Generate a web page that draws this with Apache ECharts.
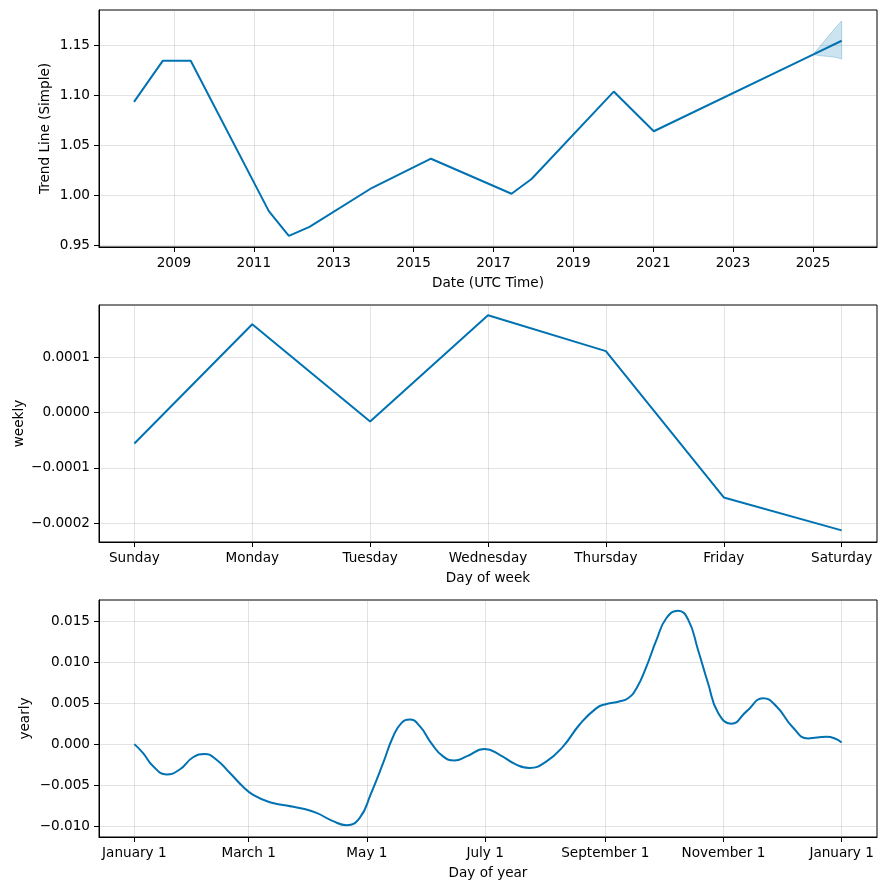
<!DOCTYPE html>
<html><head><meta charset="utf-8">
<script src="https://cdn.jsdelivr.net/npm/echarts@6/dist/echarts.min.js"></script>
<style>html,body{margin:0;padding:0;background:#fff}#c{width:886px;height:890px}</style>
</head><body><div id="c"></div>
<script>
// ---- Panel 1: trend ----
const trendDates = ['2008-01-01','2008-09-20','2009-06-03','2011-05-18','2011-11-17','2012-05-24','2013-12-18','2015-06-09','2017-06-15','2017-12-15','2020-01-05','2021-01-06','2025-01-01','2025-09-20'];
const trendValues = [1.0933,1.1343,1.1343,0.9843,0.9596,0.9686,1.0076,1.0366,1.0016,1.0163,1.1036,1.0640,1.1405,1.1543];
const bandDates = ['2025-01-01','2025-03-15','2025-05-27','2025-08-08','2025-09-20'];
const bandLower = [1.1405,1.1393,1.1386,1.1375,1.1360];
const bandUpper = [1.1405,1.1500,1.1595,1.1690,1.1740];
const trendTickYears = [2009,2011,2013,2015,2017,2019,2021,2023,2025];
const trendYTicks = [0.95,1.00,1.05,1.10,1.15];
// ---- Panel 2: weekly ----
const weekDays = ['Sunday','Monday','Tuesday','Wednesday','Thursday','Friday','Saturday'];
const weeklyValues = [-0.0000559,0.0001591,-0.0000162,0.0001753,0.0001105,-0.0001532,-0.0002126];
const weeklyYTicks = [-0.0002,-0.0001,0,0.0001];
// ---- Panel 3: yearly ----
const yearDays = [0,4.5,9.7,16.6,23.4,30.3,36.3,42.4,49.2,56.1,61.3,69.9,78.5,87.1,94,102.5,109.5,116.3,122,128.4,133.5,137.9,142.1,147.3,153.3,159.3,165.3,171.4,180.8,188.5,197.1,204,212.7,221.2,229.8,238.5,243.6,250.2,254.8,259.1,264.3,269.4,274.6,280.6,285.8,290.9,296.1,301.3,308.2,315.9,324.5,331.4,340,347.7,357.2,365];
const yearlyValues = [0.0000,-0.0011,-0.0027,-0.0037,-0.0031,-0.0016,-0.0012,-0.0019,-0.0035,-0.0052,-0.0062,-0.0071,-0.0075,-0.0079,-0.0084,-0.0094,-0.0099,-0.0090,-0.0061,-0.0023,0.0009,0.0026,0.0030,0.0022,0.0001,-0.0015,-0.0020,-0.0015,-0.0006,-0.0013,-0.0025,-0.0029,-0.0021,-0.0003,0.0024,0.0044,0.0049,0.0052,0.0056,0.0068,0.0095,0.0127,0.0154,0.0163,0.0152,0.0115,0.0074,0.0038,0.0025,0.0040,0.0056,0.0046,0.0020,0.0007,0.0009,0.0002];
const yearTickDays = [0,59,120,181,243,304,365];
const yearTickLabels = ['January 1','March 1','May 1','July 1','September 1','November 1','January 1'];
const yearlyYTicks = [-0.010,-0.005,0,0.005,0.010,0.015];

const LINE = '#0072B2';
const FONT = 'DejaVu Sans';
const FS = 13.6;
function fmt(v, n) {
  const s = Math.abs(v).toFixed(n);
  return (v < -1e-12 ? '\u2212' : '') + s;
}
// date string -> fractional year (UTC)
function decYear(s) {
  const p = s.split('-').map(Number);
  const t = Date.UTC(p[0], p[1]-1, p[2]);
  const a = Date.UTC(p[0], 0, 1), b = Date.UTC(p[0]+1, 0, 1);
  return p[0] + (t - a) / (b - a);
}

const axisCommon = {
  axisLine: { show: true, onZero: false, lineStyle: { color: '#000', width: 1 } },
  axisTick: { show: true, inside: false, length: 5, lineStyle: { color: '#000', width: 1 } },
  splitLine: { show: true, lineStyle: { color: 'rgba(128,128,128,0.22)', width: 1 } },
  nameTextStyle: { fontFamily: FONT, fontSize: FS, color: '#000' },
  nameMoveOverlap: false,
  nameLocation: 'middle'
};
function ax(extra) { return Object.assign({}, axisCommon, extra); }
const labelBase = { fontFamily: FONT, fontSize: FS, color: '#000', margin: 9, showMinLabel: true, showMaxLabel: true, hideOverlap: false };
function ticks(vals) { return Object.assign({}, axisCommon.axisTick, { customValues: vals }); }
function labels(vals, f) { return Object.assign({}, labelBase, { customValues: vals, formatter: f }); }

const bandData = bandDates.map((d, i) => [decYear(d), bandLower[i], bandUpper[i]]);

const chart = echarts.init(document.getElementById('c'), null, { renderer: 'canvas' });
const gridBase = { left: 99, right: 9, height: 237, show: true, borderColor: '#000', borderWidth: 1, backgroundColor: 'transparent', containLabel: false, outerBoundsMode: 'none' };

chart.setOption({
  animation: false,
  backgroundColor: '#fff',
  grid: [
    Object.assign({}, gridBase, { top: 10 }),
    Object.assign({}, gridBase, { top: 305 }),
    Object.assign({}, gridBase, { top: 600 })
  ],
  xAxis: [
    ax({ type: 'value', gridIndex: 0, min: decYear('2007-02-15'), max: decYear('2026-08-09'),
      name: 'Date (UTC Time)', nameGap: 29,
      axisTick: ticks(trendTickYears), axisLabel: labels(trendTickYears, v => String(Math.round(v))) }),
    ax({ type: 'value', gridIndex: 1, min: -0.3, max: 6.3,
      name: 'Day of week', nameGap: 29,
      axisTick: ticks([0,1,2,3,4,5,6]), axisLabel: labels([0,1,2,3,4,5,6], v => weekDays[Math.round(v)]) }),
    ax({ type: 'value', gridIndex: 2, min: -18.25, max: 383.25,
      name: 'Day of year', nameGap: 29,
      axisTick: ticks(yearTickDays), axisLabel: labels(yearTickDays, v => yearTickLabels[yearTickDays.indexOf(Math.round(v))]) })
  ],
  yAxis: [
    ax({ type: 'value', gridIndex: 0, min: 0.9485, max: 1.185, name: 'Trend Line (Simple)', nameGap: 47,
      axisTick: ticks(trendYTicks), axisLabel: labels(trendYTicks, v => fmt(v, 2)) }),
    ax({ type: 'value', gridIndex: 1, min: -0.0002335, max: 0.0001937, name: 'weekly', nameGap: 73,
      axisTick: ticks(weeklyYTicks), axisLabel: labels(weeklyYTicks, v => fmt(v, 4)) }),
    ax({ type: 'value', gridIndex: 2, min: -0.01134, max: 0.0176, name: 'yearly', nameGap: 67,
      axisTick: ticks(yearlyYTicks), axisLabel: labels(yearlyYTicks, v => fmt(v, 3)) })
  ],
  series: [
    { type: 'custom', xAxisIndex: 0, yAxisIndex: 0, silent: true, clip: true,
      data: bandData, encode: { x: 0, y: [1, 2] },
      renderItem: function (params, api) {
        if (params.dataIndex !== 0) return null;
        const pts = [];
        bandData.forEach(r => pts.push(api.coord([r[0], r[2]])));
        for (let i = bandData.length - 1; i >= 0; i--) pts.push(api.coord([bandData[i][0], bandData[i][1]]));
        return { type: 'polygon', shape: { points: pts },
          style: { fill: 'rgba(0,114,178,0.2)', stroke: 'rgba(0,114,178,0.25)', lineWidth: 1 } };
      } },
    { type: 'line', xAxisIndex: 0, yAxisIndex: 0, symbol: 'none',
      data: trendDates.map((d, i) => [decYear(d), trendValues[i]]), lineStyle: { color: LINE, width: 2 } },
    { type: 'line', xAxisIndex: 1, yAxisIndex: 1, symbol: 'none',
      data: weeklyValues.map((v, i) => [i, v]), lineStyle: { color: LINE, width: 2 } },
    { type: 'line', xAxisIndex: 2, yAxisIndex: 2, symbol: 'none', smooth: 0.5,
      data: yearDays.map((d, i) => [d, yearlyValues[i]]), lineStyle: { color: LINE, width: 2 } }
  ]
});
</script></body></html>
